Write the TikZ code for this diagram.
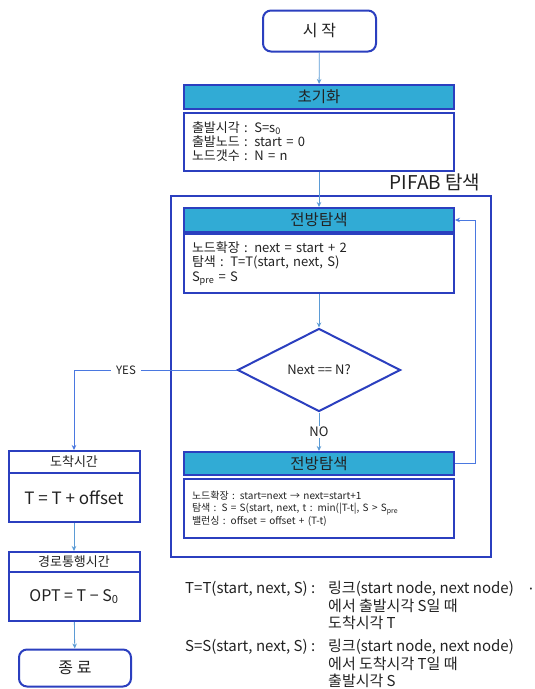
\documentclass[tikz,border=0pt]{standalone}
\usepackage{fontspec}
\setmainfont{Noto Sans CJK KR}
\usetikzlibrary{arrows.meta,shapes.geometric}
\definecolor{boxblue}{HTML}{2B3FBF}
\definecolor{hdrcyan}{HTML}{31ABD5}
\definecolor{linkblue}{HTML}{5B9BD5}
\definecolor{flowblue}{HTML}{4A78E0}
\definecolor{ink}{HTML}{222222}
\newcommand{\fs}[2]{\fontsize{#1}{#2}\selectfont}

\begin{document}
\begin{tikzpicture}[x=1pt,y=-1pt,
  every node/.style={text=ink},
  box/.style={draw=boxblue, line width=2pt, fill=white, inner sep=0pt},
  wide/.style={minimum width=270pt},
  narrow/.style={minimum width=131pt},
  hdr/.style={box, wide, fill=hdrcyan, minimum height=24pt, font=\fs{15.5}{17}},
  body/.style={box, text width=254pt, inner xsep=8pt, align=left, minimum height=58pt},
  lhdr/.style={box, narrow, minimum height=22pt, font=\fs{13}{15}},
  lbody/.style={box, narrow, minimum height=49pt},
  term/.style={box, rounded corners=8pt},
  link/.style={draw=linkblue, line width=0.8pt, -{Stealth[length=5pt,width=4.5pt]}},
  flow/.style={draw=flowblue, line width=0.8pt, -{Stealth[length=5pt,width=4.5pt]}},
  lbl/.style={fill=white, inner xsep=5pt}
]
\useasboundingbox (0,0) rectangle (535,689);

% PIFAB search frame
\node[draw=boxblue, line width=2pt, minimum width=320pt, minimum height=361pt, inner sep=0pt] (pifab) at (331,376.5) {};
\node[font=\fs{19}{21}] (pifablbl) at (435,182) {PIFAB 탐색};

% main column
\node[term, minimum width=113pt, minimum height=41pt, font=\fs{16}{18}] (start) at (319.5,31) {시 작};

\node[hdr] (inith) at (319,97) {초기화};
\node[body, font=\fs{13}{14.4}] (initb) at (319,141.5) {출발시각 : S=s\textsubscript{0}\\출발노드 : start = 0\\노드갯수 : N = n};

\node[hdr] (fwd1h) at (319,220) {전방탐색};
\node[body, minimum height=59pt, font=\fs{13}{14.6}] (fwd1b) at (319,263.5) {노드확장 : next = start + 2\\탐색 : T=T(start, next, S)\\S\textsubscript{pre} = S};

\node[shape=diamond, draw=boxblue, line width=2pt, fill=white, aspect=2, inner sep=0pt,
      minimum width=163pt, minimum height=83pt, font=\fs{13}{15}] (test) at (319,370) {Next == N?};

\node[hdr, minimum height=23pt] (fwd2h) at (319,463.5) {전방탐색};
\node[body, minimum height=59pt, font=\fs{10}{12.4}] (fwd2b) at (319,508.5) {노드확장 : start=next → next=start+1\\탐색 : S = S(start, next, t : min(|T-t|, S > S\textsubscript{pre}\\밸런싱 : offset = offset + (T-t)};

% left column
\node[lhdr] (arrh) at (74,462) {도착시간};
\node[lbody, font=\fs{17}{19}] (arrb) at (74,497.5) {T = T + offset};

\node[lhdr, minimum height=20pt] (pathh) at (74,562) {경로통행시간};
\node[lbody, font=\fs{16}{18}] (pathb) at (74,596.5) {OPT = T − S\textsubscript{0}};

\node[term, minimum width=112pt, minimum height=37pt, font=\fs{16}{18}] (finish) at (75,668) {종 료};

% connectors
\draw[link] (start) -- (inith);
\draw[link] (initb) -- (fwd1h);
\draw[link] (fwd1b) -- (test);
\draw[link] (test) -- node[lbl, font=\fs{13}{15}, inner ysep=1pt] {NO} (fwd2h);
\draw[flow] (fwd2h.east) -- ++(20,0) |- (fwd1h.east);
\draw[flow] (test.west) -| node[lbl, pos=0.34, font=\fs{11.5}{13}] {YES} (arrh.north);
\draw[link] (arrb) -- (pathh);
\draw[link] (pathb) -- (finish);

% function definitions
\node[anchor=north west, inner sep=0pt, font=\fs{15}{17.2}] (notes) at (185,581) {%
  \begin{tabular}{@{}l@{}l@{}}
  \makebox[143pt][l]{T=T(start, next, S) :} & 링크(start node, next node)\\
  & 에서 출발시각 S일 때\\
  & 도착시각 T\\[5pt]
  \makebox[143pt][l]{S=S(start, next, S) :} & 링크(start node, next node)\\
  & 에서 도착시각 T일 때\\
  & 출발시각 S
  \end{tabular}};
\node[font=\fs{15}{17}] (dot) at (531,591) {·};
\end{tikzpicture}
\end{document}
